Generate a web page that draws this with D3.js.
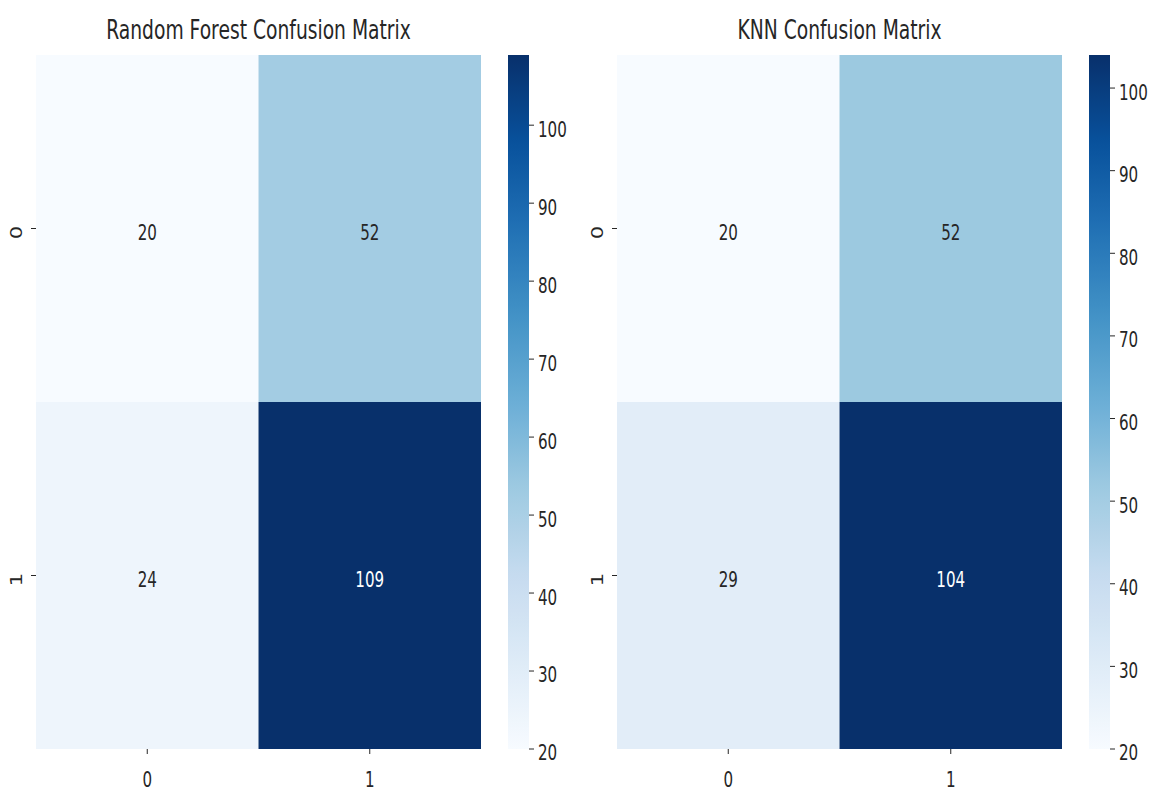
<!DOCTYPE html>
<html>
<head>
<meta charset="utf-8">
<script src="https://cdn.jsdelivr.net/npm/d3@7"></script>
<style>
  html, body { margin: 0; padding: 0; background: #ffffff; }
  svg { display: block; }
  text { font-family: "DejaVu Sans", sans-serif; fill: #262626; }
</style>
</head>
<body>
<svg id="chart" width="1154" height="793"></svg>
<script>
// Class labels shared by both confusion matrices
const classLabels = ["0", "1"];

// Confusion matrix counts (rows = actual, columns = predicted)
const rfMatrix = [
  [20, 52],
  [24, 109]
];
const knnMatrix = [
  [20, 52],
  [29, 104]
];

const panelTitles = ["Random Forest Confusion Matrix", "KNN Confusion Matrix"];
const colorbarTicks = [20, 30, 40, 50, 60, 70, 80, 90, 100];

// Matplotlib "Blues" colormap anchors
const bluesStops = ["#f7fbff", "#deebf7", "#c6dbef", "#9ecae1", "#6baed6",
                    "#4292c6", "#2171b5", "#08519c", "#08306b"];

const svg = d3.select("#chart");
const SX = 0.72;         // horizontal text squeeze
const FONT = 21;
const TITLE_FONT = 26;
const DIGIT_DY = 4;      // nudge so digits sit centred on their anchor

const bluesScale = d3.scaleLinear()
  .domain(d3.range(bluesStops.length).map(i => i / (bluesStops.length - 1)))
  .range(bluesStops)
  .interpolate(d3.interpolateRgb)
  .clamp(true);
const blues = t => bluesScale(t);

function squeezedText(g, x, y, str, opts = {}) {
  const rot = opts.rotate ? ` rotate(${opts.rotate})` : "";
  return g.append("text")
    .attr("transform", `translate(${x},${y}) scale(${SX},1)${rot}`)
    .attr("text-anchor", opts.anchor || "middle")
    .attr("dominant-baseline", opts.baseline || "central")
    .style("font-size", (opts.size || FONT) + "px")
    .style("fill", opts.fill || "#262626")
    .text(str);
}

const panels = [
  { matrix: rfMatrix, title: panelTitles[0], x0: 36, x1: 481, cb0: 508, cb1: 529 },
  { matrix: knnMatrix, title: panelTitles[1], x0: 617, x1: 1062, cb0: 1089, cb1: 1110 }
];
const plotTop = 55, plotBottom = 749;

const defs = svg.append("defs");

panels.forEach((p, pi) => {
  const g = svg.append("g");
  const flat = p.matrix.flat();
  const vmin = d3.min(flat), vmax = d3.max(flat);
  const norm = v => (v - vmin) / (vmax - vmin);

  const x = d3.scaleBand().domain(classLabels).range([p.x0, p.x1]).padding(0);
  const y = d3.scaleBand().domain(classLabels).range([plotTop, plotBottom]).padding(0);

  // Cells
  const cells = [];
  p.matrix.forEach((row, ri) => row.forEach((v, ci) => cells.push({ r: classLabels[ri], c: classLabels[ci], v })));

  g.selectAll("rect.cell").data(cells).enter().append("rect")
    .attr("class", "cell")
    .attr("x", d => x(d.c))
    .attr("y", d => y(d.r))
    .attr("width", x.bandwidth())
    .attr("height", y.bandwidth())
    .attr("fill", d => blues(norm(d.v)));

  // Cell annotations
  cells.forEach(d => {
    const c = d3.rgb(blues(norm(d.v)));
    const lum = 0.2126 * c.r + 0.7152 * c.g + 0.0722 * c.b;
    squeezedText(g, x(d.c) + x.bandwidth() / 2, y(d.r) + y.bandwidth() / 2 + DIGIT_DY, String(d.v),
      { fill: lum < 130 ? "#ffffff" : "#262626" });
  });

  // X ticks
  classLabels.forEach(lbl => {
    const cx = x(lbl) + x.bandwidth() / 2;
    g.append("line").attr("x1", cx).attr("x2", cx).attr("y1", plotBottom).attr("y2", plotBottom + 5)
      .attr("stroke", "#262626").attr("stroke-width", 1);
    squeezedText(g, cx, plotBottom + 31, lbl);
  });

  // Y ticks (labels rotated)
  classLabels.forEach(lbl => {
    const cy = y(lbl) + y.bandwidth() / 2;
    g.append("line").attr("x1", p.x0 - 5).attr("x2", p.x0).attr("y1", cy).attr("y2", cy)
      .attr("stroke", "#262626").attr("stroke-width", 1);
    squeezedText(g, p.x0 - 19, cy + DIGIT_DY, lbl, { rotate: -90 });
  });

  // Title
  squeezedText(g, (p.x0 + p.x1) / 2, 30, p.title, { size: TITLE_FONT });

  // Colorbar
  const cbScale = d3.scaleLinear().domain([vmin, vmax]).range([plotBottom, plotTop]);
  const gradId = "cbgrad" + pi;
  const grad = defs.append("linearGradient").attr("id", gradId)
    .attr("x1", 0).attr("y1", 1).attr("x2", 0).attr("y2", 0);
  d3.range(0, 1.0001, 0.02).forEach(t => {
    grad.append("stop").attr("offset", t).attr("stop-color", blues(t));
  });
  g.append("rect")
    .attr("x", p.cb0).attr("y", plotTop)
    .attr("width", p.cb1 - p.cb0).attr("height", plotBottom - plotTop)
    .attr("fill", `url(#${gradId})`);

  const ticks = colorbarTicks.filter(t => t >= vmin && t <= vmax);
  ticks.forEach(t => {
    const ty = cbScale(t);
    g.append("line").attr("x1", p.cb1).attr("x2", p.cb1 + 5).attr("y1", ty).attr("y2", ty)
      .attr("stroke", "#262626").attr("stroke-width", 1);
    squeezedText(g, p.cb1 + 9, ty + DIGIT_DY, String(t), { anchor: "start" });
  });
});
</script>
</body>
</html>
